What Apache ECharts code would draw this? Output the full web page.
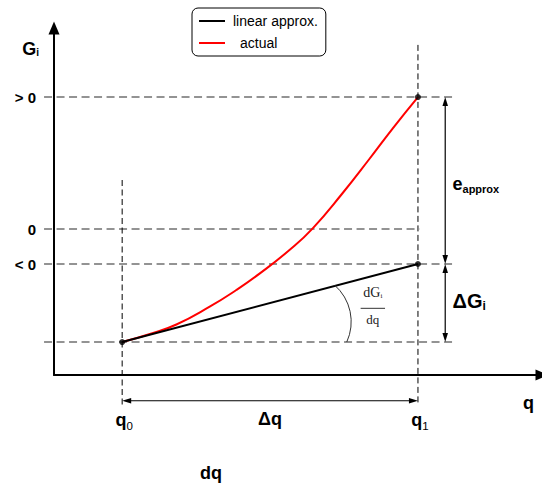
<!DOCTYPE html>
<html>
<head>
<meta charset="utf-8">
<script src="https://cdn.jsdelivr.net/npm/echarts@6/dist/echarts.min.js"></script>
<style>
html,body{margin:0;padding:0;background:#fff;}
#c{width:542px;height:489px;}
</style>
</head>
<body>
<div id="c"></div>
<script>
// ---------------- data ----------------
const qTickValues = [1.0, 5.34];            // q0, q1
const qTickSubs   = ['0', '1'];
const gTickValues = [3.77, 0, -1.0];        // > 0, 0, < 0
const gTickLabels = ['> 0', '0', '< 0'];

const linearX = [1.0, 5.34];
const linearY = [-3.23, -1.0];

const actualX = [1.0, 1.406, 1.796, 2.284, 2.675, 3.016, 3.455, 3.796, 4.236, 4.627, 4.968, 5.34];
const actualY = [-3.23, -3.0, -2.729, -2.22, -1.743, -1.274, -0.6, 0.02, 1.029, 2.0, 2.871, 3.77];

const keyPointsX = [1.0, 5.34, 5.34];
const keyPointsY = [-3.23, -1.0, 3.77];

// ---------------- annotation geometry (data space) ----------------
const guideStartX = -0.146;
const hGuideLevels = [3.77, 0, -1.0, -3.23];
const hGuideEnds   = [5.87, 5.36, 5.87, 5.87];
const vGuideX      = [1.0, 5.34];
const vGuideTops   = [1.4, 5.26];
const vGuideBottom = -5.03;

const arrowX  = 5.74;     // x of the two vertical double arrows
const dqArrowY = -4.906;  // y of the horizontal double arrow
const dqLabelPos = [2.303, -6.98];
const fracPos = [4.678, -2.266];
const arcCenter = [3.646, -2.649];

// ---------------- helpers ----------------
const FONT = 'Liberation Sans, Arial, Helvetica, sans-serif';
const SERIF = 'Liberation Serif, "Times New Roman", serif';
const zip = (a, b) => a.map((v, i) => [v, b[i]]);
const findIdx = (arr, v) => arr.findIndex(t => Math.abs(t - v) < 1e-6);

const guideRows = [];
hGuideLevels.forEach((y, i) => guideRows.push([guideStartX, y, hGuideEnds[i], y, 0]));
vGuideX.forEach((x, i) => guideRows.push([x, vGuideTops[i], x, vGuideBottom, 1]));

const arrowRows = [
  [arrowX, keyPointsY[2], arrowX, keyPointsY[1]],
  [arrowX, keyPointsY[1], arrowX, keyPointsY[0]],
  [qTickValues[0], dqArrowY, qTickValues[1], dqArrowY]
];

function arrowEls(a, b) {
  const dx = b[0] - a[0], dy = b[1] - a[1];
  const len = Math.hypot(dx, dy), ux = dx / len, uy = dy / len, nx = -uy, ny = ux;
  const L = 9, W = 5.5;
  const head = (tip, sx, sy) => ({
    type: 'polygon',
    shape: { points: [
      [tip[0], tip[1]],
      [tip[0] - sx * L + nx * W / 2, tip[1] - sy * L + ny * W / 2],
      [tip[0] - sx * L - nx * W / 2, tip[1] - sy * L - ny * W / 2]
    ] },
    style: { fill: '#000' }
  });
  return [
    { type: 'line', shape: { x1: a[0] + ux * 6, y1: a[1] + uy * 6, x2: b[0] - ux * 6, y2: b[1] - uy * 6 },
      style: { stroke: '#000', lineWidth: 1.2 } },
    head(b, ux, uy), head(a, -ux, -uy)
  ];
}

const chart = echarts.init(document.getElementById('c'), null, { renderer: 'svg', width: 542, height: 489 });

const option = {
  backgroundColor: '#fff',
  animation: false,
  grid: { left: 54, top: 28, width: 489, height: 347, containLabel: false },
  legend: {
    data: [
      { name: 'linear approx.' },
      { name: 'actual', textStyle: { padding: [0, 0, 0, 10] } }
    ],
    orient: 'vertical', left: 192, top: 8,
    padding: [6, 8, 6, 6], itemGap: 8, itemWidth: 26, itemHeight: 14,
    borderColor: '#000', borderWidth: 1, borderRadius: 6,
    selectedMode: false,
    itemStyle: { opacity: 0 },
    textStyle: { fontFamily: FONT, fontSize: 14, color: '#000', padding: [0, 0, 0, 3] }
  },
  xAxis: {
    type: 'value', min: 0, max: 7.16,
    axisLine: { show: true, onZero: false, symbol: ['none', 'triangle'], symbolSize: [11, 13],
      lineStyle: { color: '#000', width: 2 } },
    axisTick: { show: false }, splitLine: { show: false },
    axisLabel: {
      customValues: qTickValues, margin: 32, padding: [0, 0, 0, 4],
      formatter: v => { const i = findIdx(qTickValues, v); return i < 0 ? '' : '{m|q}{s|' + qTickSubs[i] + '}'; },
      rich: {
        m: { fontFamily: FONT, fontSize: 18, fontWeight: 'bold', color: '#000' },
        s: { fontFamily: FONT, fontSize: 11.5, fontWeight: 'normal', color: '#000', padding: [13.4, 0, 0, 0] }
      }
    },
    name: 'q', nameLocation: 'end', nameGap: -8,
    nameTextStyle: { fontFamily: FONT, fontSize: 18, fontWeight: 'bold', color: '#000',
      align: 'right', verticalAlign: 'top', padding: [18.5, 0, 0, 0] }
  },
  yAxis: {
    type: 'value', min: -4.171, max: 5.743,
    axisLine: { show: true, onZero: false, symbol: ['none', 'triangle'], symbolSize: [11, 13],
      lineStyle: { color: '#000', width: 2 } },
    axisTick: { show: false }, splitLine: { show: false },
    axisLabel: {
      customValues: gTickValues, margin: 18,
      formatter: v => { const i = findIdx(gTickValues, v); return i < 0 ? '' : gTickLabels[i]; },
      fontFamily: FONT, fontSize: 15, fontWeight: 'bold', color: '#000'
    },
    name: '{m|G}{s|i}', nameLocation: 'end', nameGap: -21,
    nameTextStyle: { align: 'right', verticalAlign: 'middle', padding: [0, 15, 0, 0], color: '#000',
      rich: {
        m: { fontFamily: FONT, fontSize: 18, fontWeight: 'bold', color: '#000' },
        s: { fontFamily: FONT, fontSize: 10, fontWeight: 'bold', color: '#000', padding: [7.5, 0, 0, 0] }
      } }
  },
  series: [
    {
      type: 'custom', name: 'guides', clip: false, silent: true, z: 1,
      data: guideRows,
      renderItem: (params, api) => {
        const p0 = api.coord([api.value(0), api.value(1)]);
        const p1 = api.coord([api.value(2), api.value(3)]);
        const vertical = api.value(4) === 1;
        return {
          type: 'line',
          shape: { x1: p0[0], y1: p0[1], x2: p1[0], y2: p1[1] },
          style: vertical
            ? { stroke: '#000', lineWidth: 1, lineDash: [6, 3.5] }
            : { stroke: '#707070', lineWidth: 1.5, lineDash: [8, 4.5] }
        };
      }
    },
    {
      type: 'line', name: 'actual', data: zip(actualX, actualY), smooth: 0.5,
      symbol: 'none', z: 3, color: '#ff0000',
      lineStyle: { color: '#ff0000', width: 2 }
    },
    {
      type: 'line', name: 'linear approx.', data: zip(linearX, linearY),
      symbol: 'none', z: 4, color: '#000',
      lineStyle: { color: '#000', width: 2 }
    },
    {
      type: 'scatter', name: 'points', data: zip(keyPointsX, keyPointsY),
      symbolSize: 6, z: 5, itemStyle: { color: '#000' }, silent: true
    },
    {
      type: 'custom', name: 'annotations', clip: false, silent: true, z: 6,
      data: [[0, 0]],
      renderItem: (params, api) => {
        const children = [];
        arrowRows.forEach(r => {
          children.push(...arrowEls(api.coord([r[0], r[1]]), api.coord([r[2], r[3]])));
        });
        // angle arc
        const ac = api.coord(arcCenter);
        children.push({ type: 'arc',
          shape: { cx: ac[0], cy: ac[1], r: 48.7, startAngle: -0.853, endAngle: 0.43, clockwise: true },
          style: { stroke: '#333', fill: 'none', lineWidth: 1 } });
        // fraction dG_i / dq
        const fp = api.coord(fracPos);
        children.push({ type: 'line', shape: { x1: fp[0] - 12.2, y1: fp[1], x2: fp[0] + 12.2, y2: fp[1] },
          style: { stroke: '#333', lineWidth: 1 } });
        children.push({ type: 'text', x: fp[0], y: fp[1] - 16,
          style: { text: '{m|dG}{s|i}', align: 'center', verticalAlign: 'middle', fill: '#222',
            rich: { m: { fontFamily: SERIF, fontSize: 14, fill: '#222' },
                    s: { fontFamily: SERIF, fontSize: 7, fill: '#222', padding: [6.6, 0, 0, 0] } } } });
        children.push({ type: 'text', x: fp[0], y: fp[1] + 11.3,
          style: { text: 'dq', align: 'center', verticalAlign: 'middle', fill: '#222',
            fontFamily: SERIF, fontSize: 13 } });
        // e_approx label
        const eTop = api.coord([arrowX, keyPointsY[2]]), eBot = api.coord([arrowX, keyPointsY[1]]);
        children.push({ type: 'text', x: eTop[0] + 7.3, y: (eTop[1] + eBot[1]) / 2 + 3.2,
          style: { text: '{m|e}{s|approx}', align: 'left', verticalAlign: 'middle', fill: '#000',
            rich: { m: { fontFamily: FONT, fontSize: 18, fontWeight: 'bold', fill: '#000' },
                    s: { fontFamily: FONT, fontSize: 11, fontWeight: 'bold', fill: '#000', padding: [9.8, 0, 0, 0] } } } });
        // Delta G_i label
        const gBot = api.coord([arrowX, keyPointsY[0]]);
        children.push({ type: 'text', x: eBot[0] + 7.3, y: (eBot[1] + gBot[1]) / 2 - 1.6,
          style: { text: '{m|\u0394G}{s|i}', align: 'left', verticalAlign: 'middle', fill: '#000',
            rich: { m: { fontFamily: FONT, fontSize: 20, fontWeight: 'bold', fill: '#000' },
                    s: { fontFamily: FONT, fontSize: 12, fontWeight: 'bold', fill: '#000', padding: [8.9, 0, 0, 0] } } } });
        // Delta q label
        const qa = api.coord([(qTickValues[0] + qTickValues[1]) / 2, dqArrowY]);
        children.push({ type: 'text', x: qa[0], y: qa[1] + 18.1,
          style: { text: '\u0394q', align: 'center', verticalAlign: 'middle', fill: '#000',
            fontFamily: FONT, fontSize: 18, fontWeight: 'bold' } });
        // dq label
        const dp = api.coord(dqLabelPos);
        children.push({ type: 'text', x: dp[0], y: dp[1],
          style: { text: 'dq', align: 'center', verticalAlign: 'middle', fill: '#000',
            fontFamily: FONT, fontSize: 18, fontWeight: 'bold' } });
        return { type: 'group', children };
      }
    }
  ]
};
chart.setOption(option);
</script>
</body>
</html>
